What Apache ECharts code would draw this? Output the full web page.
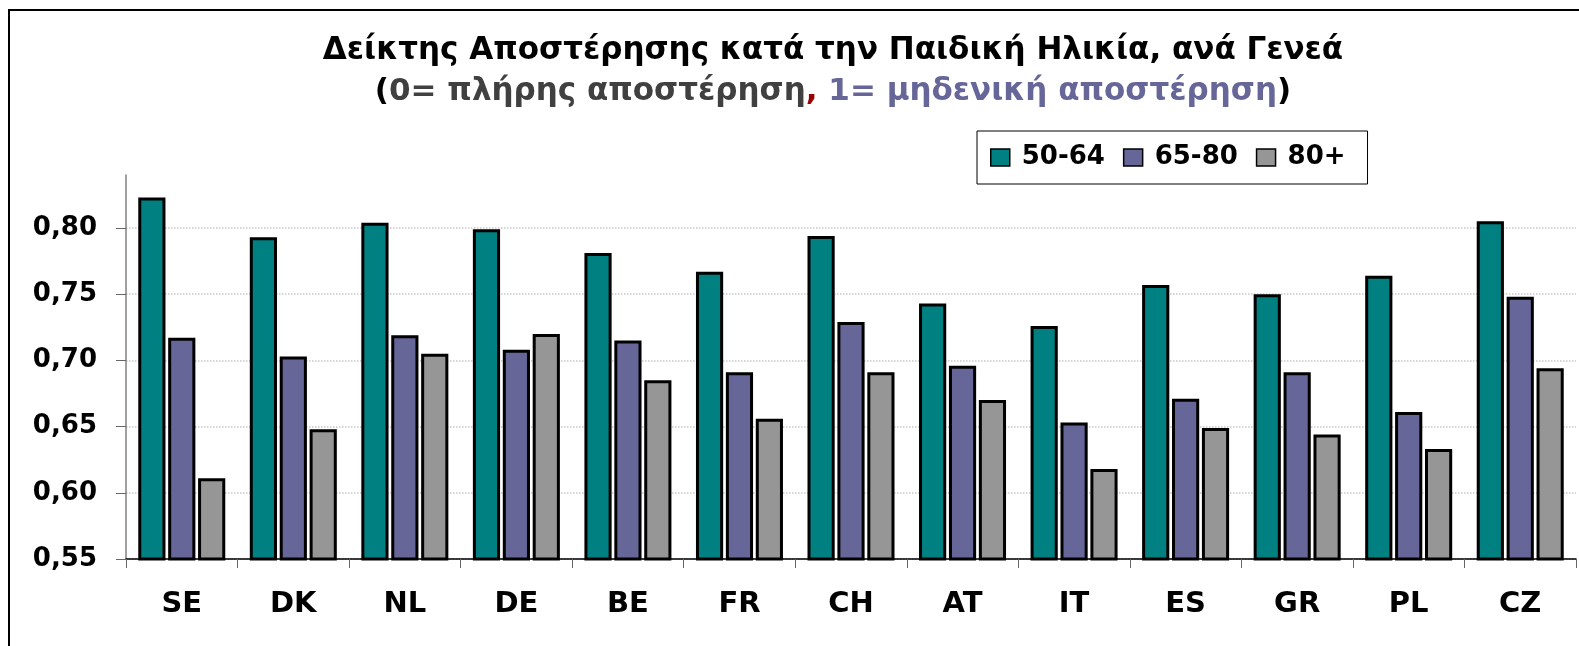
<!DOCTYPE html>
<html>
<head>
<meta charset="utf-8">
<script src="https://cdn.jsdelivr.net/npm/echarts@6/dist/echarts.min.js"></script>
<style>
  html, body { margin: 0; padding: 0; background: #fff; }
  #chart { width: 1579px; height: 646px; }
</style>
</head>
<body>
<div id="chart"></div>
<script>
const countries = ['SE', 'DK', 'NL', 'DE', 'BE', 'FR', 'CH', 'AT', 'IT', 'ES', 'GR', 'PL', 'CZ']
const seriesNames = ['50-64', '65-80', '80+']
// δείκτης ανά γενεά
const age5064 = [0.823, 0.793, 0.804, 0.799, 0.781, 0.767, 0.794, 0.743, 0.726, 0.757, 0.750, 0.764, 0.805]
const age6580 = [0.717, 0.703, 0.719, 0.708, 0.715, 0.691, 0.729, 0.696, 0.653, 0.671, 0.691, 0.661, 0.748]
const age80 = [0.611, 0.648, 0.705, 0.720, 0.685, 0.656, 0.691, 0.670, 0.618, 0.649, 0.644, 0.633, 0.694]
const yTicks = [0.55, 0.60, 0.65, 0.70, 0.75, 0.80]

const font = 'DejaVu Sans'
const colors = ['#008080', '#666699', '#969696']

const myChart = echarts.init(document.getElementById('chart'))

const barSeries = [age5064, age6580, age80].map((data, i) => ({
  name: seriesNames[i],
  type: 'bar',
  data: data,
  barCategoryGap: '22%',
  barGap: '10%',
  itemStyle: {
    color: colors[i],
    borderColor: '#000',
    borderWidth: 3
  }
}))

myChart.setOption({
  animation: false,
  graphic: [{
    type: 'rect',
    shape: { x: 9, y: 10, width: 1600, height: 700 },
    style: { fill: 'none', stroke: '#000', lineWidth: 2 },
    silent: true
  }],
  title: {
    text: 'Δείκτης Αποστέρησης κατά την Παιδική Ηλικία, ανά Γενεά\n{b|(}{g|0= πλήρης αποστέρηση}{r|,}{p| 1= μηδενική αποστέρηση}{b|)}',
    left: 828,
    top: 25,
    textAlign: 'center',
    textStyle: {
      fontFamily: font,
      fontSize: 31,
      fontWeight: 'bold',
      color: '#000',
      lineHeight: 41,
      rich: {
        b: { fontFamily: font, fontSize: 31, fontWeight: 'bold', color: '#000' },
        g: { fontFamily: font, fontSize: 31, fontWeight: 'bold', color: '#404040' },
        r: { fontFamily: font, fontSize: 31, fontWeight: 'bold', color: '#990000' },
        p: { fontFamily: font, fontSize: 31, fontWeight: 'bold', color: '#666699' }
      }
    }
  },
  legend: {
    data: seriesNames,
    left: 977,
    top: 131,
    orient: 'horizontal',
    icon: 'rect',
    itemWidth: 19,
    itemHeight: 17,
    itemGap: 18,
    padding: [13, 22, 13, 13],
    borderColor: '#000',
    borderWidth: 1,
    backgroundColor: '#fff',
    itemStyle: { borderWidth: 1.5, borderColor: '#000' },
    textStyle: {
      fontFamily: font,
      fontSize: 26,
      fontWeight: 'bold',
      color: '#000',
      lineHeight: 27,
      padding: [0, 0, 0, 7]
    }
  },
  grid: {
    left: 126,
    right: 3,
    top: 175,
    bottom: 87,
    containLabel: false
  },
  xAxis: {
    type: 'category',
    data: countries,
    axisLine: { lineStyle: { color: '#000', width: 1.5 } },
    axisTick: { show: true, length: 9, lineStyle: { color: '#666' } },
    axisLabel: {
      fontFamily: font,
      fontSize: 29,
      fontWeight: 'bold',
      color: '#000',
      margin: 31
    }
  },
  yAxis: {
    type: 'value',
    min: 0.55,
    max: 0.84,
    interval: 0.05,
    axisLine: { show: true, lineStyle: { color: '#808080', width: 1.5 } },
    axisTick: { show: true, inside: false, length: 10, lineStyle: { color: '#666' }, customValues: yTicks },
    axisLabel: {
      customValues: yTicks,
      fontFamily: font,
      fontSize: 26,
      fontWeight: 'bold',
      color: '#000',
      margin: 29,
      formatter: v => v.toFixed(2).replace('.', ',')
    },
    splitLine: { show: true, lineStyle: { color: '#c8c8c8', type: 'dotted', width: 1.5 } }
  },
  series: barSeries
})
</script>
</body>
</html>
